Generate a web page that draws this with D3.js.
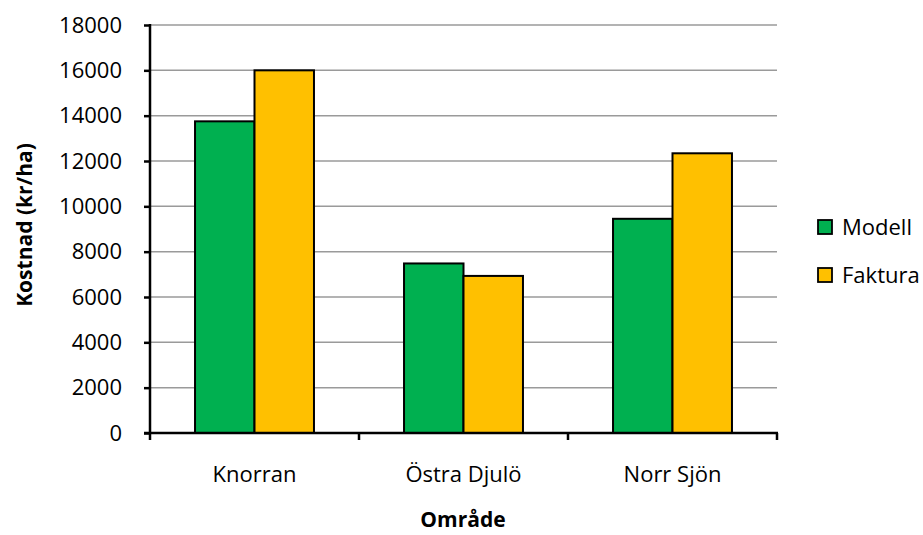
<!DOCTYPE html>
<html>
<head>
<meta charset="utf-8">
<script src="https://cdn.jsdelivr.net/npm/d3@7"></script>
<style>
  body { margin: 0; background: #fff; }
  svg { display: block; font-family: "Open Sans", sans-serif; }
</style>
</head>
<body>
<svg id="chart" width="923" height="535"></svg>
<script>
// Cost per hectare by area: model estimate vs. invoiced amount
const categories = ["Knorran", "Östra Djulö", "Norr Sjön"];
const seriesNames = ["Modell", "Faktura"];
const modell = [13750, 7480, 9450];
const faktura = [16000, 6930, 12340];
const yTicks = [0, 2000, 4000, 6000, 8000, 10000, 12000, 14000, 16000, 18000];
const colors = ["#00B050", "#FFC000"];

const svg = d3.select("#chart");
const plotLeft = 150, plotRight = 777, plotTop = 25, plotBottom = 433;

const x0 = d3.scaleBand().domain(categories).range([plotLeft, plotRight]).padding(0);
const x1 = d3.scaleBand().domain(seriesNames).range([0, x0.bandwidth()])
  .paddingInner(0).paddingOuter(0.757);
const y = d3.scaleLinear().domain([0, 18000]).range([plotBottom, plotTop]);

// Gridlines
svg.append("g").selectAll("line").data(yTicks.filter(d => d > 0)).join("line")
  .attr("x1", plotLeft).attr("x2", plotRight)
  .attr("y1", d => y(d)).attr("y2", d => y(d))
  .attr("stroke", "#9a9a9a").attr("stroke-width", 1.5);

// Bars
const values = [modell, faktura];
const groups = svg.append("g").selectAll("g").data(categories).join("g")
  .attr("transform", d => `translate(${x0(d)},0)`);
groups.selectAll("rect")
  .data((c, i) => seriesNames.map((s, j) => ({ s, v: values[j][i], j })))
  .join("rect")
  .attr("x", d => x1(d.s))
  .attr("width", x1.bandwidth())
  .attr("y", d => y(d.v))
  .attr("height", d => y(0) - y(d.v))
  .attr("fill", d => colors[d.j])
  .attr("stroke", "#000").attr("stroke-width", 2);

// Y axis
const yAxis = svg.append("g").attr("transform", `translate(${plotLeft},0)`)
  .call(d3.axisLeft(y).tickValues(yTicks).tickSize(6).tickPadding(22).tickFormat(d3.format("d")));
yAxis.select(".domain").attr("stroke-width", 2.5).attr("d", `M0,${plotTop - 1}V${plotBottom}`);
yAxis.selectAll(".tick line").attr("stroke-width", 2.5);
yAxis.selectAll("text").attr("font-size", 22).attr("fill", "#000")
  .attr("font-family", "Open Sans, sans-serif");

// X axis
const xTickPos = [plotLeft, ...categories.map(c => x0(c) + x0.bandwidth())];
const xg = svg.append("g");
xg.append("line").attr("x1", plotLeft - 6).attr("x2", plotRight + 1)
  .attr("y1", plotBottom).attr("y2", plotBottom)
  .attr("stroke", "#000").attr("stroke-width", 2.5);
xg.selectAll("line.t").data(xTickPos).join("line").attr("class", "t")
  .attr("x1", d => d).attr("x2", d => d)
  .attr("y1", plotBottom).attr("y2", plotBottom + 7)
  .attr("stroke", "#000").attr("stroke-width", 2.5);
xg.selectAll("text").data(categories).join("text")
  .attr("x", d => x0(d) + x0.bandwidth() / 2)
  .attr("y", 482)
  .attr("text-anchor", "middle")
  .attr("font-size", 22).attr("fill", "#000")
  .text(d => d);

// Axis titles
svg.append("text")
  .attr("transform", "translate(32,225) rotate(-90)")
  .attr("text-anchor", "middle")
  .attr("font-size", 21).attr("font-weight", "bold")
  .text("Kostnad (kr/ha)");
svg.append("text")
  .attr("x", 463).attr("y", 527)
  .attr("text-anchor", "middle")
  .attr("font-size", 21).attr("font-weight", "bold")
  .text("Område");

// Legend
const legend = svg.append("g").selectAll("g").data(seriesNames).join("g")
  .attr("transform", (d, i) => `translate(818,${227 + i * 48})`);
legend.append("rect")
  .attr("x", 0).attr("y", -7).attr("width", 14).attr("height", 14)
  .attr("fill", (d, i) => colors[i])
  .attr("stroke", "#000").attr("stroke-width", 1.8);
legend.append("text")
  .attr("x", 24).attr("y", 8)
  .attr("font-size", 22).attr("fill", "#000")
  .text(d => d);
</script>
</body>
</html>
